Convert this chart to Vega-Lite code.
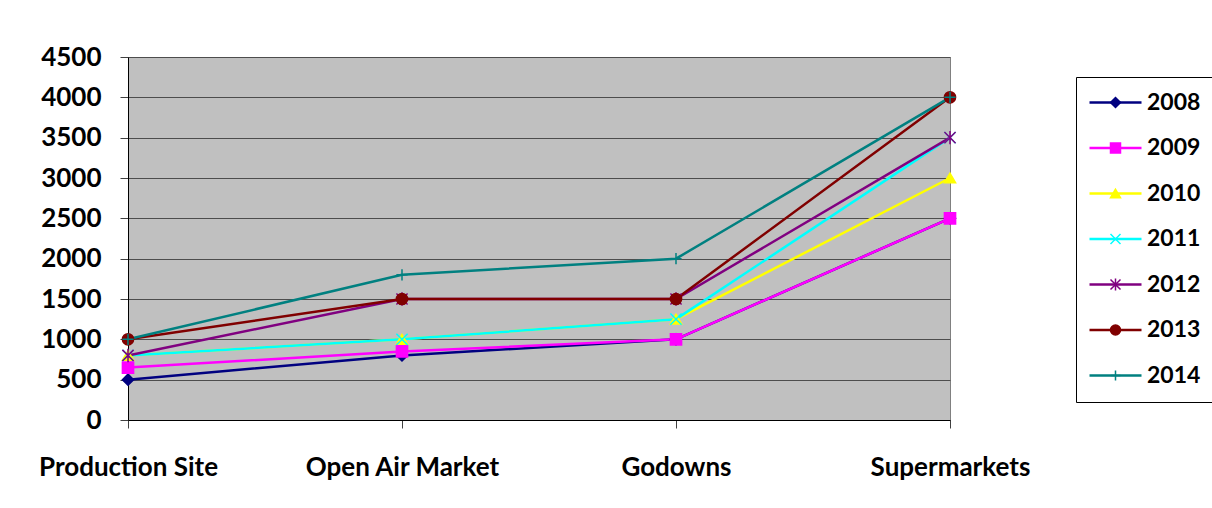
{
  "$schema": "https://vega.github.io/schema/vega-lite/v6.json",
  "width": 822,
  "height": 363,
  "autosize": "none",
  "padding": {"left": 128, "top": 57, "right": 262, "bottom": 88},
  "background": "white",
  "config": {
    "view": {"fill": "#C0C0C0", "stroke": "#808080", "strokeWidth": 1},
    "font": "Lato",
    "axis": {
      "labelFont": "Lato",
      "labelFontSize": 26,
      "labelFontWeight": "bold",
      "labelColor": "black",
      "labelLimit": 400,
      "domainColor": "black",
      "domainWidth": 1,
      "tickColor": "#404040",
      "tickSize": 8,
      "title": null
    }
  },
  "data": {
    "values": [
      {"cat": "Production Site", "year": "2008", "value": 500},
      {"cat": "Open Air Market", "year": "2008", "value": 800},
      {"cat": "Godowns", "year": "2008", "value": 1000},
      {"cat": "Supermarkets", "year": "2008", "value": 2500},
      {"cat": "Production Site", "year": "2009", "value": 650},
      {"cat": "Open Air Market", "year": "2009", "value": 850},
      {"cat": "Godowns", "year": "2009", "value": 1000},
      {"cat": "Supermarkets", "year": "2009", "value": 2500},
      {"cat": "Production Site", "year": "2010", "value": 800},
      {"cat": "Open Air Market", "year": "2010", "value": 1000},
      {"cat": "Godowns", "year": "2010", "value": 1250},
      {"cat": "Supermarkets", "year": "2010", "value": 3000},
      {"cat": "Production Site", "year": "2011", "value": 800},
      {"cat": "Open Air Market", "year": "2011", "value": 1000},
      {"cat": "Godowns", "year": "2011", "value": 1250},
      {"cat": "Supermarkets", "year": "2011", "value": 3500},
      {"cat": "Production Site", "year": "2012", "value": 800},
      {"cat": "Open Air Market", "year": "2012", "value": 1500},
      {"cat": "Godowns", "year": "2012", "value": 1500},
      {"cat": "Supermarkets", "year": "2012", "value": 3500},
      {"cat": "Production Site", "year": "2013", "value": 1000},
      {"cat": "Open Air Market", "year": "2013", "value": 1500},
      {"cat": "Godowns", "year": "2013", "value": 1500},
      {"cat": "Supermarkets", "year": "2013", "value": 4000},
      {"cat": "Production Site", "year": "2014", "value": 1000},
      {"cat": "Open Air Market", "year": "2014", "value": 1800},
      {"cat": "Godowns", "year": "2014", "value": 2000},
      {"cat": "Supermarkets", "year": "2014", "value": 4000}
    ]
  },
  "encoding": {
    "x": {
      "field": "cat",
      "type": "nominal",
      "sort": ["Production Site", "Open Air Market", "Godowns", "Supermarkets"],
      "scale": {"type": "point", "padding": 0},
      "axis": {"labelAngle": 0, "labelPadding": 26, "grid": false, "ticks": true}
    },
    "y": {
      "field": "value",
      "type": "quantitative",
      "scale": {"domain": [0, 4500], "nice": false},
      "axis": {
        "values": [0, 500, 1000, 1500, 2000, 2500, 3000, 3500, 4000, 4500],
        "format": "d",
        "grid": true,
        "gridColor": "#4d4d4d",
        "gridWidth": 1,
        "labelPadding": 19
      }
    }
  },
  "layer": [
    {
      "mark": {"type": "line", "strokeWidth": 2.5},
      "encoding": {
        "color": {
          "field": "year",
          "type": "nominal",
          "scale": {
            "domain": ["2008", "2009", "2010", "2011", "2012", "2013", "2014"],
            "range": ["#000080", "#FF00FF", "#FFFF00", "#00FFFF", "#800080", "#800000", "#008080"]
          },
          "legend": {
            "orient": "none",
            "legendX": 948,
            "legendY": 20,
            "title": null,
            "symbolType": "M-5.2,0L5.2,0",
            "symbolSize": 100,
            "symbolStrokeWidth": 2.5,
            "symbolOffset": 14,
            "labelFont": "Lato",
            "labelFontSize": 23,
            "labelFontWeight": "bold",
            "labelColor": "black",
            "labelOffset": 20,
            "strokeColor": "black",
            "fillColor": "white",
            "padding": 14,
            "rowPadding": 21.5,
            "zindex": 0
          }
        }
      }
    },
    {
      "transform": [{"calculate": "'y' + datum.year", "as": "yk"}],
      "mark": {"type": "point", "filled": true, "size": 125, "strokeWidth": 1.5, "opacity": 1},
      "encoding": {
        "fill": {
          "field": "yk",
          "type": "nominal",
          "scale": {
            "domain": ["y2008", "y2009", "y2010", "y2011", "y2012", "y2013", "y2014"],
            "range": ["#000080", "#FF00FF", "#FFFF00", "#00FFFF", "#800080", "#800000", "#008080"]
          },
          "legend": {
            "orient": "none",
            "legendX": 948,
            "legendY": 20,
            "title": null,
            "symbolSize": 100,
            "symbolStrokeWidth": 1.5,
            "symbolOffset": 14,
            "labelFont": "Lato",
            "labelFontSize": 23,
            "labelOpacity": 0,
            "labelExpr": "''",
            "padding": 14,
            "rowPadding": 21.5,
            "zindex": 1
          }
        },
        "stroke": {
          "field": "yk",
          "type": "nominal",
          "scale": {
            "domain": ["y2008", "y2009", "y2010", "y2011", "y2012", "y2013", "y2014"],
            "range": ["#000080", "#FF00FF", "#FFFF00", "#00FFFF", "#800080", "#800000", "#008080"]
          },
          "legend": {
            "orient": "none",
            "legendX": 948,
            "legendY": 20,
            "title": null,
            "symbolSize": 100,
            "symbolStrokeWidth": 1.5,
            "symbolOffset": 14,
            "labelFont": "Lato",
            "labelFontSize": 23,
            "labelOpacity": 0,
            "labelExpr": "''",
            "padding": 14,
            "rowPadding": 21.5,
            "zindex": 1
          }
        },
        "shape": {
          "field": "yk",
          "type": "nominal",
          "scale": {
            "domain": ["y2008", "y2009", "y2010", "y2011", "y2012", "y2013", "y2014"],
            "range": ["diamond", "square", "triangle-up", "M-1,-1L1,1M-1,1L1,-1", "M-1,-1L1,1M-1,1L1,-1M0,-1.2L0,1.2", "circle", "M-1,0L1,0M0,-1L0,1"]
          },
          "legend": {
            "orient": "none",
            "legendX": 948,
            "legendY": 20,
            "title": null,
            "symbolSize": 100,
            "symbolStrokeWidth": 1.5,
            "symbolOffset": 14,
            "labelFont": "Lato",
            "labelFontSize": 23,
            "labelOpacity": 0,
            "labelExpr": "''",
            "padding": 14,
            "rowPadding": 21.5,
            "zindex": 1
          }
        }
      }
    }
  ]
}
